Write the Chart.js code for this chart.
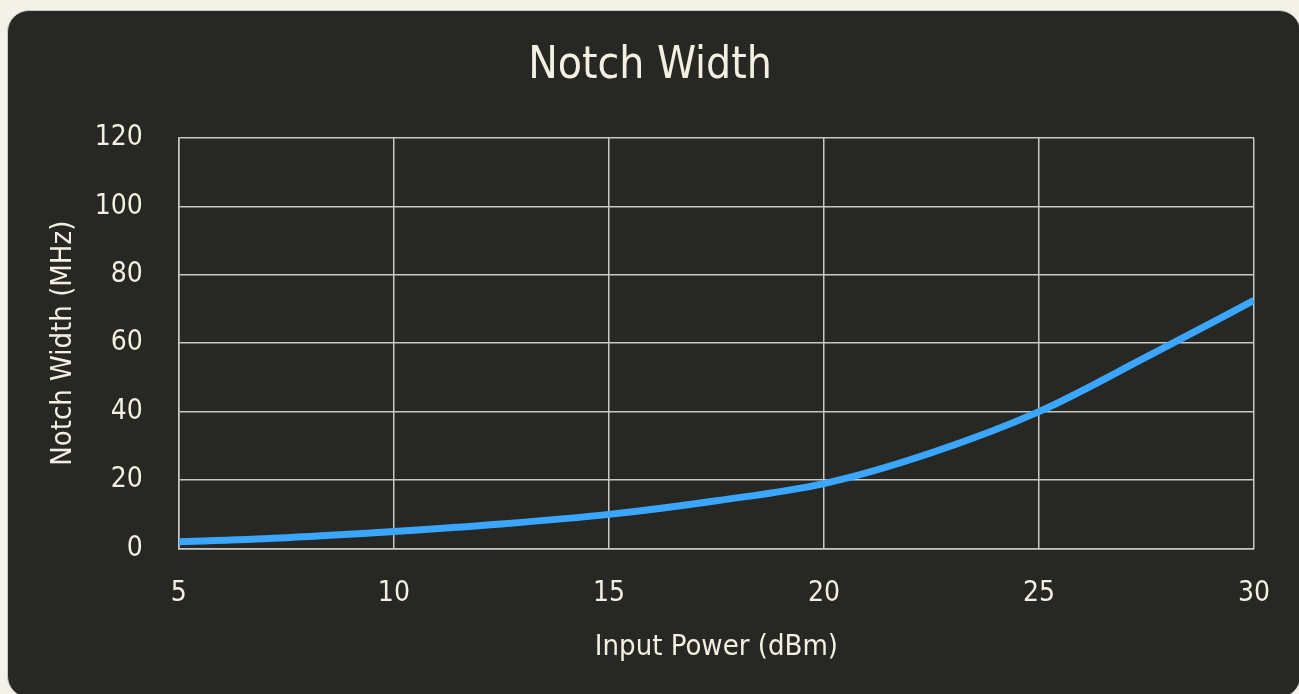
<!DOCTYPE html>
<html>
<head>
<meta charset="utf-8">
<script src="https://cdn.jsdelivr.net/npm/chart.js@4.4.0/dist/chart.umd.min.js"></script>
<style>
  html, body { margin: 0; padding: 0; background: #f3f1e8; width: 1299px; height: 694px; overflow: hidden; }
  .card {
    position: absolute; left: 7px; top: 10px; width: 1292px; height: 686px;
    background: #272723; border: 1px solid #c9c9c4; border-radius: 22px; overflow: hidden;
  }
  canvas { display: block; }
</style>
</head>
<body>
<div class="card"><canvas id="notchChart" width="1288" height="684"></canvas></div>
<script>
// Input power (dBm) and notch width (MHz)
const inputPower = [5, 7.5, 10, 12.5, 15, 17.5, 20, 22.5, 25, 27.5, 30];
const notchWidth = [2, 3.2, 5, 7.2, 10, 14, 19, 28, 40, 56, 72.5];

const textColor = '#f3f0e2';
const gridColor = '#c8c8c4';
const fontFamily = '"DejaVu Sans Condensed", "DejaVu Sans", sans-serif';

const ctx = document.getElementById('notchChart').getContext('2d');
const notchChart = new Chart(ctx, {
  type: 'line',
  data: {
    datasets: [{
      label: 'Notch Width',
      data: inputPower.map((p, i) => ({ x: p, y: notchWidth[i] })),
      borderColor: '#3ba6ff',
      borderWidth: 7,
      pointRadius: 0,
      fill: false,
      cubicInterpolationMode: 'monotone'
    }]
  },
  options: {
    responsive: false,
    animation: false,
    layout: { padding: { left: 38, right: 42, top: 12, bottom: 26 } },
    plugins: {
      legend: { display: false },
      tooltip: { enabled: false },
      title: {
        display: true,
        text: 'Notch Width',
        color: textColor,
        font: { family: fontFamily, size: 44, weight: 'normal' },
        padding: { top: 17, bottom: 45 }
      }
    },
    scales: {
      x: {
        type: 'linear',
        min: 5, max: 30,
        // invisible tick marks give the gap between axis and labels
        ticks: { stepSize: 5, color: textColor, padding: 0, font: { family: fontFamily, size: 28 } },
        grid: { color: gridColor, lineWidth: 1.5, drawTicks: true, tickLength: 28, tickColor: 'transparent' },
        border: { color: gridColor, width: 1.5 },
        title: { display: true, text: 'Input Power (dBm)', color: textColor, padding: { top: 20, bottom: 4 }, font: { family: fontFamily, size: 29 } }
      },
      y: {
        min: 0, max: 120,
        ticks: { stepSize: 20, color: textColor, padding: 0, font: { family: fontFamily, size: 28 } },
        grid: { color: gridColor, lineWidth: 1.5, drawTicks: true, tickLength: 36, tickColor: 'transparent' },
        border: { color: gridColor, width: 1.5 },
        title: { display: true, text: 'Notch Width (MHz)', color: textColor, padding: { top: 0, bottom: 14 }, font: { family: fontFamily, size: 29 } }
      }
    }
  }
});
</script>
</body>
</html>
